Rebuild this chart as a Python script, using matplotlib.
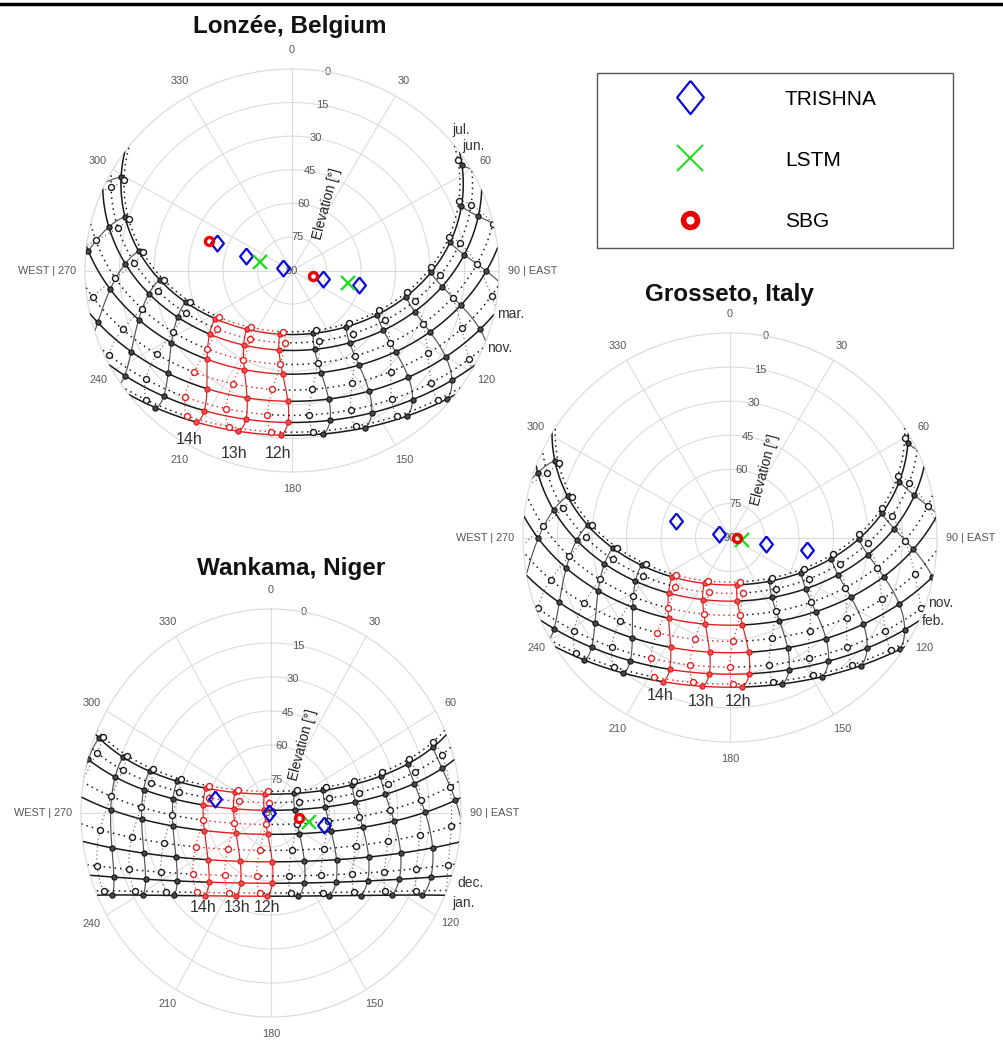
"""Sun-path diagrams with satellite view geometries for three validation sites."""

import matplotlib
matplotlib.use("Agg")
import matplotlib.pyplot as plt
import numpy as np
from matplotlib.lines import Line2D

plt.rcParams["font.family"] = ["Liberation Sans", "DejaVu Sans"]

W, H = 1004, 1046

# sites
SITE_NAMES = ["Lonzée, Belgium", "Grosseto, Italy", "Wankama, Niger"]
SITE_LAT = [50.55, 42.83, 13.65]
SITE_LON = [4.74, 11.07, 2.63]
SITE_UTC_OFFSET = [0, 1, 0]

# dates (1st of each month) and clock hours
MONTH_NAMES = ["jan.", "feb.", "mar.", "apr.", "may", "jun.",
               "jul.", "aug.", "sep.", "oct.", "nov.", "dec."]
MONTH_DOY = [1, 32, 60, 91, 121, 152, 182, 213, 244, 274, 305, 335]
FIRST_HALF = [0, 1, 2, 3, 4, 5]
SECOND_HALF = [6, 7, 8, 9, 10, 11]
HOURS = list(range(24))
RED_HOURS = [12, 13, 14]

# view geometries: azimuth / elevation [deg]
LONZEE_TRISHNA_AZ = [290.8, 288.0, 284.7, 106.1, 102.5]
LONZEE_TRISHNA_EL = [55.0, 69.0, 86.1, 75.8, 60.0]
LONZEE_LSTM_AZ = [285.8, 103.1]
LONZEE_LSTM_EL = [75.5, 64.8]
LONZEE_SBG_AZ = [290.3, 104.8]
LONZEE_SBG_EL = [51.7, 80.4]

GROSSETO_TRISHNA_AZ = [287.4, 288.3, 100.8, 99.4]
GROSSETO_TRISHNA_EL = [65.4, 85.1, 74.1, 56.2]
GROSSETO_LSTM_AZ = [102.0]
GROSSETO_LSTM_EL = [84.8]
GROSSETO_SBG_AZ = [94.0]
GROSSETO_SBG_EL = [86.8]

WANKAMA_TRISHNA_AZ = [282.8, 260.0, 101.9]
WANKAMA_TRISHNA_EL = [62.8, 89.2, 64.3]
WANKAMA_LSTM_AZ = [101.9]
WANKAMA_LSTM_EL = [71.4]
WANKAMA_SBG_AZ = [100.0]
WANKAMA_SBG_EL = [76.5]

THETA_TICKS = [0, 30, 60, 90, 120, 150, 180, 210, 240, 270, 300, 330]
THETA_LABELS = ["0", "30", "60", "90 | EAST", "120", "150", "180", "210",
                "240", "WEST | 270", "300", "330"]
ELEV_TICKS = [0, 15, 30, 45, 60, 75, 90]

# layout (pixels in the 1004x1046 canvas)
PANEL_BOX = [(85, 69, 499, 472), (523, 333, 937, 742), (81, 609, 461, 1017)]
TITLE_XY = [(290, 27), (729, 295), (291, 568)]
MONTH_TAGS = [
    [("jul.", 452, 130), ("jun.", 462, 146), ("mar.", 497, 314), ("nov.", 487, 348)],
    [("nov.", 928, 603), ("feb.", 922, 621)],
    [("dec.", 457, 883), ("jan.", 452, 903)],
]
HOUR_TAGS = [
    [("14h", 189, 440), ("13h", 234, 454), ("12h", 278, 454)],
    [("14h", 660, 696), ("13h", 701, 701), ("12h", 738, 701)],
    [("14h", 203, 908), ("13h", 237, 908), ("12h", 267, 908)],
]

INK = "#1a1a1a"
HOUR_INK = "#555555"
RED = "#e02020"
GRID = "#dcdcdc"
TICK = "#555555"
BLUE = "#0a0ad8"
GREEN = "#22dd22"
SBG_RED = "#ee0000"
DOT = (0, (1, 2.6))
DIAMOND = [(0, 1), (0.8, 0), (0, -1), (-0.8, 0), (0, 1)]


def sun_position(lat, lon, doy, hour_utc):
    """NOAA solar position: azimuth (clockwise from north) and elevation in degrees."""
    gamma = 2 * np.pi / 365 * (doy - 1 + (hour_utc - 12) / 24)
    eqtime = 229.18 * (0.000075 + 0.001868 * np.cos(gamma) - 0.032077 * np.sin(gamma)
                       - 0.014615 * np.cos(2 * gamma) - 0.040849 * np.sin(2 * gamma))
    decl = (0.006918 - 0.399912 * np.cos(gamma) + 0.070257 * np.sin(gamma)
            - 0.006758 * np.cos(2 * gamma) + 0.000907 * np.sin(2 * gamma)
            - 0.002697 * np.cos(3 * gamma) + 0.00148 * np.sin(3 * gamma))
    tst = hour_utc * 60 + eqtime + 4 * lon
    ha = np.radians(tst / 4 - 180)
    phi = np.radians(lat)
    cos_zen = np.sin(phi) * np.sin(decl) + np.cos(phi) * np.cos(decl) * np.cos(ha)
    elev = 90 - np.degrees(np.arccos(np.clip(cos_zen, -1, 1)))
    az = np.degrees(np.arctan2(np.sin(ha), np.cos(ha) * np.sin(phi) - np.tan(decl) * np.cos(phi))) + 180
    return az % 360, elev


def px(x, y):
    return x / W, 1 - y / H


def setup_axes(ax):
    ax.set_theta_zero_location("N")
    ax.set_theta_direction(-1)
    ax.set_aspect("auto")
    ax.set_ylim(0, 90)
    ax.set_xticks(np.radians(THETA_TICKS))
    ax.set_xticklabels([])
    ax.set_yticks([15, 30, 45, 60, 75])
    ax.set_yticklabels([])
    ax.tick_params(length=0)
    ax.grid(True, color=GRID, lw=0.8)
    ax.set_axisbelow(True)
    ax.spines["polar"].set_color(GRID)
    ax.spines["polar"].set_linewidth(0.9)

    for a, lab in zip(THETA_TICKS, THETA_LABELS):
        s, c = np.sin(np.radians(a)), np.cos(np.radians(a))
        if a == 90:
            off, ha = (9, 0), "left"
        elif a == 270:
            off, ha = (-9, 0), "right"
        else:
            off, ha = (17 * s, 17 * c + (2 if a == 0 else 0)), "center"
        ax.annotate(lab, xy=(np.radians(a), 90), xytext=(off[0] * 0.72, off[1] * 0.72),
                    textcoords="offset points", ha=ha, va="center", fontsize=7.8,
                    color=TICK, annotation_clip=False)
    for e in ELEV_TICKS:
        ax.text(np.radians(10), 90 - e, str(e), ha="center", va="center",
                fontsize=8, color=TICK, zorder=1)
    ax.text(np.radians(27), 33.5, "Elevation [°]", rotation=75, rotation_mode="anchor",
            ha="center", va="center", fontsize=9.8, color="#222222", zorder=1)


def draw_sun_paths(ax, lat, lon, utc_offset):
    t = np.arange(0, 24, 1 / 60)
    inside_red = (t > RED_HOURS[0]) & (t < RED_HOURS[-1])
    red_span = (t >= RED_HOURS[0]) & (t <= RED_HOURS[-1])

    # constant-date curves
    for k, doy in enumerate(MONTH_DOY):
        solid = k in FIRST_HALF
        az, el = sun_position(lat, lon, doy, t - utc_offset)
        th = np.unwrap(np.radians(az))
        r = np.where(el >= 0, 90 - el, np.nan)
        r_black = np.where(inside_red, np.nan, r)
        ls = "-" if solid else DOT
        ax.plot(th, r_black, color=INK, lw=1.1, ls=ls, zorder=3)
        ax.plot(th[red_span], r[red_span], color=RED, lw=1.0, ls=ls, zorder=3)

    # constant-hour curves (two analemma branches)
    branches = [
        (np.arange(MONTH_DOY[FIRST_HALF[0]], MONTH_DOY[FIRST_HALF[-1]] + 1), True),
        (np.arange(MONTH_DOY[SECOND_HALF[0]], MONTH_DOY[SECOND_HALF[-1]] + 1), False),
    ]
    for h in HOURS:
        for days, solid in branches:
            az, el = sun_position(lat, lon, days, h - utc_offset)
            th = np.unwrap(np.radians(az))
            r = np.where(el >= 0, 90 - el, np.nan)
            color = RED if h in RED_HOURS else HOUR_INK
            ax.plot(th, r, color=color, lw=0.85 if solid else 0.8,
                    ls="-" if solid else DOT, zorder=2)

    # hourly nodes
    groups = {(s, red): ([], []) for s in (True, False) for red in (True, False)}
    for k, doy in enumerate(MONTH_DOY):
        solid = k in FIRST_HALF
        for h in HOURS:
            az, el = sun_position(lat, lon, doy, h - utc_offset)
            if el < 0:
                continue
            th_list, r_list = groups[(solid, h in RED_HOURS)]
            th_list.append(np.radians(az))
            r_list.append(90 - el)
    for (solid, red), (th_list, r_list) in groups.items():
        edge = RED if red else "#1a1a1a"
        if solid:
            face = "#e85050" if red else "#4a4a4a"
            ax.plot(th_list, r_list, ls="none", marker="o", ms=3.7, mfc=face, mec=edge,
                    mew=0.9, zorder=4)
        else:
            ax.plot(th_list, r_list, ls="none", marker="o", ms=4.3, mfc="white", mec=edge,
                    mew=1.0, zorder=4)


def draw_views(ax, tri_az, tri_el, lstm_az, lstm_el, sbg_az, sbg_el):
    ax.plot(np.radians(tri_az), 90 - np.array(tri_el), ls="none", marker=DIAMOND, ms=11.5,
            mfc="none", mec=BLUE, mew=1.6, zorder=6)
    ax.plot(np.radians(lstm_az), 90 - np.array(lstm_el), ls="none", marker="x", ms=9.4,
            mec=GREEN, mew=1.7, zorder=6)
    ax.plot(np.radians(sbg_az), 90 - np.array(sbg_el), ls="none", marker="o", ms=5.8,
            mfc="none", mec=SBG_RED, mew=2.4, zorder=7)


def main():
    fig = plt.figure(figsize=(W / 100, H / 100), dpi=100)
    fig.patch.set_facecolor("white")

    views = [
        (LONZEE_TRISHNA_AZ, LONZEE_TRISHNA_EL, LONZEE_LSTM_AZ, LONZEE_LSTM_EL, LONZEE_SBG_AZ, LONZEE_SBG_EL),
        (GROSSETO_TRISHNA_AZ, GROSSETO_TRISHNA_EL, GROSSETO_LSTM_AZ, GROSSETO_LSTM_EL, GROSSETO_SBG_AZ, GROSSETO_SBG_EL),
        (WANKAMA_TRISHNA_AZ, WANKAMA_TRISHNA_EL, WANKAMA_LSTM_AZ, WANKAMA_LSTM_EL, WANKAMA_SBG_AZ, WANKAMA_SBG_EL),
    ]

    for i, name in enumerate(SITE_NAMES):
        x0, y0, x1, y1 = PANEL_BOX[i]
        ax = fig.add_axes([x0 / W, 1 - y1 / H, (x1 - x0) / W, (y1 - y0) / H], projection="polar")
        setup_axes(ax)
        draw_sun_paths(ax, SITE_LAT[i], SITE_LON[i], SITE_UTC_OFFSET[i])
        draw_views(ax, *views[i])

        tx, ty = TITLE_XY[i]
        fig.text(*px(tx, ty), name, ha="center", va="center", fontsize=17.5,
                 fontweight="bold", color="#111111")
        for lab, lx, ly in MONTH_TAGS[i]:
            fig.text(*px(lx, ly), lab, ha="left", va="center", fontsize=10,
                     color="#333333")
        for lab, lx, ly in HOUR_TAGS[i]:
            fig.text(*px(lx, ly), lab, ha="center", va="center", fontsize=11.5,
                     color="#333333")

    handles = [
        Line2D([], [], ls="none", marker=DIAMOND, ms=24, mfc="none", mec=BLUE, mew=1.6, label="TRISHNA"),
        Line2D([], [], ls="none", marker="x", ms=19, mec=GREEN, mew=1.5, label="LSTM"),
        Line2D([], [], ls="none", marker="o", ms=10, mfc="none", mec=SBG_RED, mew=4.0, label="SBG"),
    ]
    leg = fig.legend(handles=handles, loc="upper left",
                     bbox_to_anchor=(597 / W, 1 - 73 / H, 356 / W, 0), mode="expand",
                     borderaxespad=0, fontsize=15, frameon=True, fancybox=False,
                     edgecolor="#555555", framealpha=1, borderpad=0.8, handlelength=7.33,
                     handletextpad=0.89, labelspacing=2.02)
    leg.get_frame().set_linewidth(1.0)

    fig.add_artist(Line2D([0, 1], [1 - 3.5 / H] * 2, color="black", lw=2.5,
                          transform=fig.transFigure))

    fig.savefig("out.png", dpi=100, facecolor="white")
    plt.close(fig)


if __name__ == "__main__":
    main()
